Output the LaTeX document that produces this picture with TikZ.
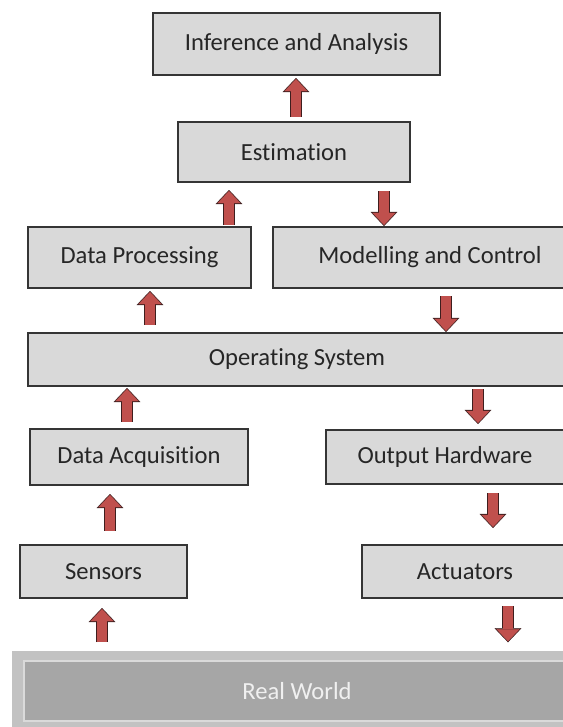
\documentclass[tikz,border=0pt]{standalone}
\usepackage{fontspec}
\setmainfont{Carlito}[Ligatures={NoCommon,NoContextual,NoRare}]
\usepackage{tikz}
\usetikzlibrary{arrows.meta,calc}
\definecolor{boxfill}{HTML}{D9D9D9}
\definecolor{boxline}{HTML}{353535}
\definecolor{boxtext}{HTML}{262626}
\definecolor{flowred}{HTML}{C0504D}
\definecolor{flowrim}{HTML}{3E1E1E}
\definecolor{worldfill}{HTML}{A6A6A6}
\definecolor{worldrim}{HTML}{C2C2C2}
\definecolor{worldedge}{HTML}{DADADA}
\newlength{\px}
\setlength{\px}{0.03cm}
\newcommand{\boxfont}{\fontsize{21}{25}\selectfont}
\tikzset{
  block/.style  = {draw=boxline,fill=boxfill,line width=1.8pt,text=boxtext,font=\boxfont,inner sep=0pt},
  world/.style  = {draw=worldedge,fill=worldfill,line width=1.3pt,text=white!94!black,font=\boxfont,inner sep=0pt},
  flow/.style   = {-{Triangle[length=10.3pt,width=19.5pt,line width=0.2pt]},line width=8.4pt,flowred,
                   preaction={draw=flowrim,line width=10.2pt,shorten >=-0.9pt,
                              -{Triangle[length=12pt,width=22.8pt,line width=0.2pt]}}}
}
\begin{document}
\begin{tikzpicture}[x=1\px,y=-1\px]
  \useasboundingbox (0,0) rectangle (563,727);
  \clip (0,0) rectangle (563,727);
  % blocks
  \node[block,minimum width=287\px,minimum height=62\px] (ia)  at (296.5,44)  {Inference and Analysis};
  \node[block,minimum width=232\px,minimum height=60\px] (est) at (294,152)   {Estimation};
  \node[block,minimum width=223\px,minimum height=61\px] (dp)  at (139.5,257.5) {Data Processing};
  \node[block,minimum width=314\px,minimum height=61\px] (mc)  at (430,257.5) {Modelling and Control};
  \node[block,minimum width=538\px,minimum height=53\px] (os)  at (297,359.5) {Operating System};
  \node[block,minimum width=218\px,minimum height=56\px] (da)  at (139,457)   {Data Acquisition};
  \node[block,minimum width=238\px,minimum height=54\px] (oh)  at (445,457)   {Output Hardware};
  \node[block,minimum width=167\px,minimum height=53\px] (sen) at (103.5,571.5) {Sensors};
  \node[block,minimum width=206\px,minimum height=53\px] (act) at (465,571.5) {Actuators};
  % real world slab
  \fill[worldrim] (12,651) rectangle (590,745);
  \node[world,minimum width=546\px,minimum height=60\px] (rw) at (297,691) {Real World};
  % up the left, down the right
  \draw[flow] ($(296,0 |- est.north)+(0,-4)$)  -- ($(296,0 |- ia.south)+(0,3)$);
  \draw[flow] ($(229,0 |- dp.north)+(0,-1)$)   -- ($(229,0 |- est.south)+(0,8)$);
  \draw[flow] ($(384,0 |- est.south)+(0,8)$)   -- ($(384,0 |- mc.north)+(0,-1)$);
  \draw[flow] ($(150,0 |- os.north)+(0,-7)$)   -- ($(150,0 |- dp.south)+(0,3)$);
  \draw[flow] ($(446,0 |- mc.south)+(0,7)$)    -- ($(446,0 |- os.north)+(0,-1)$);
  \draw[flow] ($(127,0 |- da.north)+(0,-6)$)   -- ($(127,0 |- os.south)+(0,2)$);
  \draw[flow] ($(478,0 |- os.south)+(0,2)$)    -- ($(478,0 |- oh.north)+(0,-6)$);
  \draw[flow] ($(110,0 |- sen.north)+(0,-13)$) -- ($(110,0 |- da.south)+(0,9)$);
  \draw[flow] ($(493,0 |- oh.south)+(0,8)$)    -- ($(493,0 |- act.north)+(0,-17)$);
  \draw[flow] ($(102,0 |- rw.north)+(0,-18)$)  -- ($(102,0 |- sen.south)+(0,10)$);
  \draw[flow] ($(508,0 |- act.south)+(0,7)$)   -- ($(508,0 |- rw.north)+(0,-19)$);
\end{tikzpicture}
\end{document}
